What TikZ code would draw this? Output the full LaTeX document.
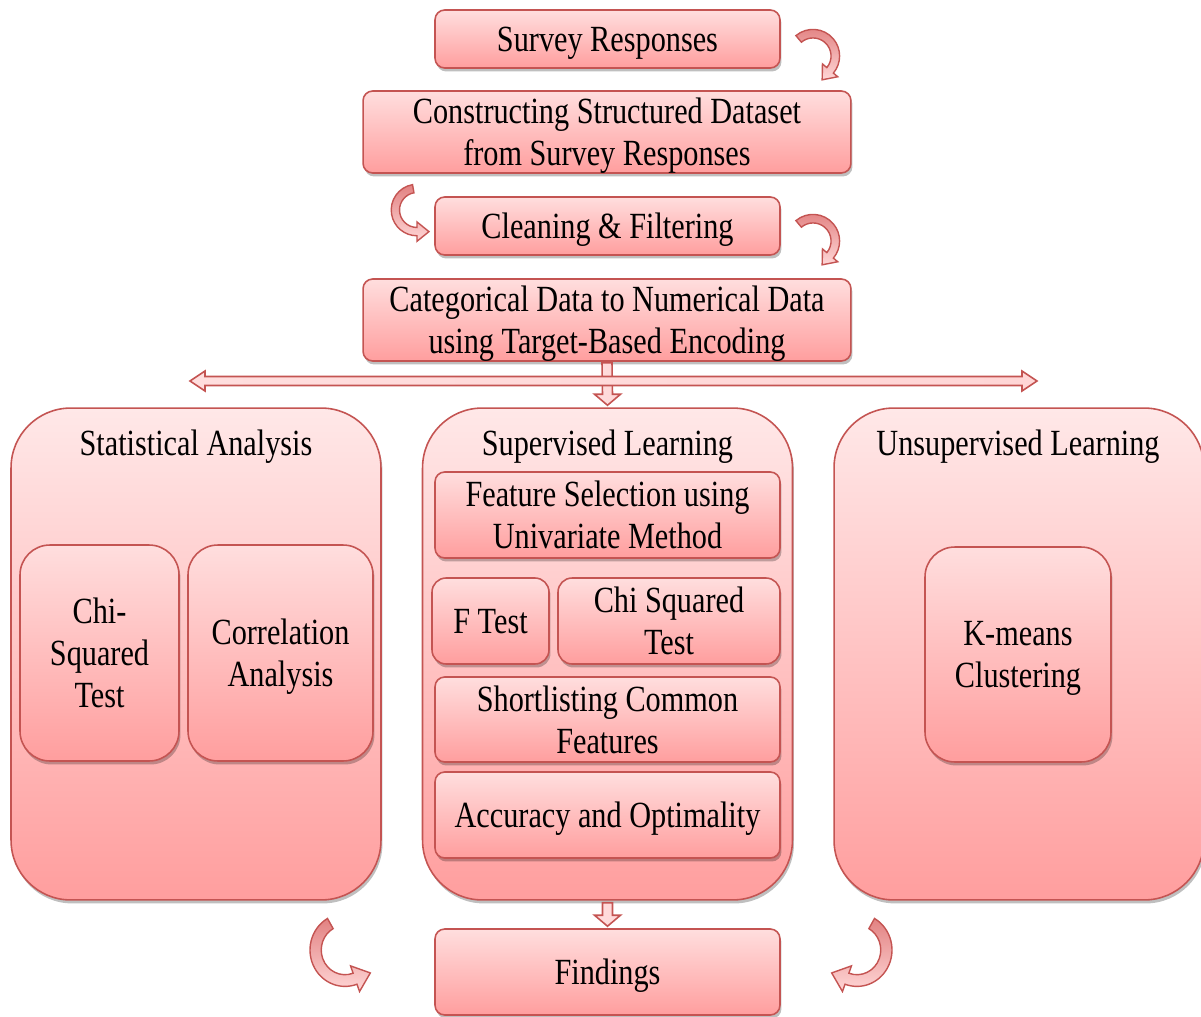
\documentclass[tikz,border=0pt]{standalone}
\usepackage{fontspec}
\setmainfont[FakeStretch=0.82]{Liberation Serif}
\usetikzlibrary{calc,shadows}

\definecolor{edgered}{RGB}{196,84,82}
\definecolor{pinktop}{RGB}{255,222,222}
\definecolor{pinkbot}{RGB}{255,158,158}
\definecolor{paletop}{RGB}{255,232,232}
\definecolor{arrowdark}{RGB}{226,130,130}
\definecolor{arrowlight}{RGB}{255,214,214}

\begin{document}
\begin{tikzpicture}[x=0.02cm, y=0.02cm,
	every node/.style={font=\fontsize{21}{23.8}\selectfont, align=center, inner sep=0pt, text depth=0pt},
	box/.style={draw=edgered, line width=0.9pt, rounded corners=5.5pt,
		top color=pinktop, bottom color=pinkbot,
		drop shadow={shadow xshift=0.03cm, shadow yshift=-0.07cm, opacity=0.25, fill=black}},
	bigbox/.style={box, rounded corners=34pt, top color=paletop, bottom color=pinkbot},
	midbox/.style={box, rounded corners=17pt},
	blockarrow/.style={draw=edgered, line width=0.9pt, left color=pinktop, right color=arrowlight, fill=arrowlight},
	pics/bendarrow/.style={code={
		\draw[edgered, line width=0.8pt, top color=arrowdark, bottom color=arrowlight]
			(100:28) arc[start angle=100, end angle=270, radius=28] --
			(270:34) -- (13,-23.5) -- (270:13) -- (270:19)
			arc[start angle=270, end angle=100, radius=19] -- cycle;
	}}
]
\useasboundingbox (0,0) rectangle (1201,-1017);

% top chain
\node[box, minimum width=6.9cm, minimum height=1.16cm] (survey) at (607.5,-39) {Survey Responses};
\node[box, minimum width=9.76cm, minimum height=1.64cm] (cons) at (607,-132) {Constructing Structured Dataset\\from Survey Responses};
\node[box, minimum width=6.9cm, minimum height=1.16cm] (clean) at (607.5,-226) {Cleaning \& Filtering};
\node[box, minimum width=9.76cm, minimum height=1.64cm] (cat) at (607,-320) {Categorical Data to Numerical Data\\using Target-Based Encoding};

\pic[rotate=50, xscale=-1, scale=0.95] at (813,-56) {bendarrow};
\pic[scale=0.92] at (417,-210) {bendarrow};
\pic[rotate=50, xscale=-1, scale=0.95] at (813,-241) {bendarrow};

% three branches
\node[bigbox, minimum width=7.4cm, minimum height=9.84cm] (stat) at (196,-654) {};
\node[bigbox, minimum width=7.4cm, minimum height=9.84cm] (sup) at (607.5,-654) {};
\node[bigbox, minimum width=7.4cm, minimum height=9.84cm] (unsup) at (1019,-654) {};

\node (statlabel) at ($(stat.north)+(0,-35)$) {Statistical Analysis};
\node (suplabel) at ($(sup.north)+(0,-35)$) {Supervised Learning};
\node (unsuplabel) at ($(unsup.north)+(-1,-35)$) {Unsupervised Learning};

\node[midbox, minimum width=3.18cm, minimum height=4.32cm] (chisq) at (99.5,-653) {Chi-\\Squared\\Test};
\node[midbox, minimum width=3.7cm, minimum height=4.32cm] (corr) at (280.5,-653) {Correlation\\Analysis};

\node[box, minimum width=6.9cm, minimum height=1.72cm] (feat) at (607.5,-515) {Feature Selection using\\Univariate Method};
\node[box, rounded corners=8pt, minimum width=2.34cm, minimum height=1.72cm] (ftest) at (490.5,-621) {F Test};
\node[box, rounded corners=8pt, minimum width=4.44cm, minimum height=1.72cm] (chisqtwo) at (669,-621) {Chi Squared\\Test};
\node[box, minimum width=6.9cm, minimum height=1.7cm] (short) at (607.5,-719.5) {Shortlisting Common\\Features};
\node[box, minimum width=6.9cm, minimum height=1.72cm] (acc) at (607.5,-815) {Accuracy and Optimality};

\node[midbox, minimum width=3.72cm, minimum height=4.3cm] (kmeans) at (1018,-654.5) {K-means\\Clustering};

\node[box, minimum width=6.9cm, minimum height=1.72cm] (find) at (607.5,-972) {Findings};

% connectors
\draw[blockarrow] ($(cat.south)+(-5,-1)$) -- ($(sup.north)+(-5,13)$) -- ++(-8,0) --
	($(sup.north)+(0,2)$) -- ($(sup.north)+(13,13)$) -- ++(-8,0) -- ($(cat.south)+(5,-1)$) -- cycle;

\coordinate (splitL) at (190,-381);
\coordinate (splitR) at (1037,-381);
\draw[blockarrow] (splitL) -- ++(15,10) -- ++(0,-5.5) -- ($(splitR)+(-15,4.5)$) -- ++(0,5.5) --
	(splitR) -- ++(-15,-10) -- ++(0,5.5) -- ($(splitL)+(15,-4.5)$) -- ++(0,-5.5) -- cycle;

\draw[blockarrow] ($(sup.south)+(-5,-2)$) -- ($(find.north)+(-5,13)$) -- ++(-8,0) --
	($(find.north)+(0,2)$) -- ($(find.north)+(13,13)$) -- ++(-8,0) -- ($(sup.south)+(5,-2)$) -- cycle;

\pic[xscale=1.25, yscale=1.3, rotate=20] at (345,-950) {bendarrow};
\pic[xscale=-1.25, yscale=1.3, rotate=20] at (857,-950) {bendarrow};

\end{tikzpicture}
\end{document}
